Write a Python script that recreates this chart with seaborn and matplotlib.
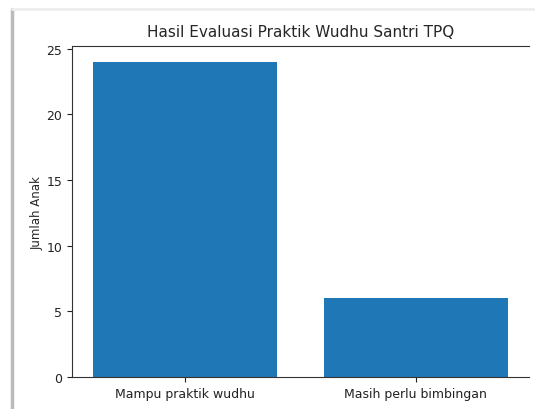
import seaborn as sns
import matplotlib.pyplot as plt
import pandas as pd
from matplotlib.lines import Line2D

# Data
categories = ["Mampu praktik wudhu", "Masih perlu bimbingan"]
jumlah = [24, 6]

df = pd.DataFrame({"Kategori": categories, "Jumlah": jumlah})

sns.set_style("ticks")
plt.rcParams["font.family"] = ["DejaVu Sans"]

fig = plt.figure(figsize=(5.35, 4.10), dpi=100)
ax = fig.add_axes([0.1346, 0.078, 0.854, 0.807])

sns.barplot(data=df, x="Kategori", y="Jumlah", color="#2077b6",
            saturation=1, width=0.8, linewidth=0, ax=ax)

ax.set_xlim(-0.49, 1.49)
ax.set_ylim(0, 25.2)
ax.set_yticks([0, 5, 10, 15, 20, 25])
ax.set_title("Hasil Evaluasi Praktik Wudhu Santri TPQ", fontsize=11, pad=7)
ax.set_xlabel("")
ax.set_ylabel("Jumlah Anak", fontsize=8.5, labelpad=2)
ax.tick_params(labelsize=9, colors="#222222")
for side in ["left", "bottom", "top"]:
    ax.spines[side].set_color("#333333")
    ax.spines[side].set_visible(True)
ax.spines["right"].set_visible(False)

# screenshot frame edges
fig.add_artist(Line2D([12 / 535, 12 / 535], [0, 400 / 410], color="#bbbbbb", lw=2.5))
fig.add_artist(Line2D([12 / 535, 1], [400 / 410, 400 / 410], color="#eeeeee", lw=2))

plt.savefig("out.png", dpi=100)
